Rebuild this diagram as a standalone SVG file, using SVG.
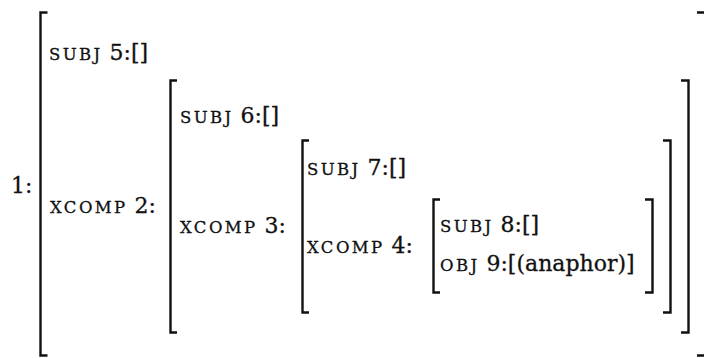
<svg xmlns="http://www.w3.org/2000/svg" width="704" height="358" viewBox="0 0 704 358">
<style>
.t{font-family:"DejaVu Serif","Liberation Serif",serif;font-size:22px;fill:#111;stroke:#111;stroke-width:0.3}
.sc{font-size:16.5px;letter-spacing:2.4px}
.br{fill:none;stroke:#111;stroke-width:2.4}
</style>
<rect width="704" height="358" fill="#fff"/>
<g id="avm1">
<path class="br" d="M47.5,12.5 H40.5 V355.5 H47.5"/>
<path class="br" d="M697,12.5 H705.5 V355.5 H697"/>
<text class="t" x="11" y="193">1:</text>
<text class="t" x="49" y="60"><tspan class="sc">SUBJ</tspan> 5:[]</text>
<text class="t" x="50" y="213"><tspan class="sc">XCOMP</tspan> 2:</text>
</g>
<g id="avm2">
<path class="br" d="M177,80.5 H170.5 V332.5 H177"/>
<path class="br" d="M681,80.5 H688.5 V332.5 H681"/>
<text class="t" x="180" y="123"><tspan class="sc">SUBJ</tspan> 6:[]</text>
<text class="t" x="180" y="233"><tspan class="sc">XCOMP</tspan> 3:</text>
</g>
<g id="avm3">
<path class="br" d="M309,140.5 H302.5 V312.5 H309"/>
<path class="br" d="M663,140.5 H670.5 V312.5 H663"/>
<text class="t" x="307" y="175"><tspan class="sc">SUBJ</tspan> 7:[]</text>
<text class="t" x="307" y="253"><tspan class="sc">XCOMP</tspan> 4:</text>
</g>
<g id="avm4">
<path class="br" d="M440,199.5 H433.5 V292.5 H440"/>
<path class="br" d="M645,199.5 H652.5 V292.5 H645"/>
<text class="t" x="440" y="232"><tspan class="sc">SUBJ</tspan> 8:[]</text>
<text class="t" x="440" y="271"><tspan class="sc">OBJ</tspan> 9:[(anaphor)]</text>
</g>
</svg>
